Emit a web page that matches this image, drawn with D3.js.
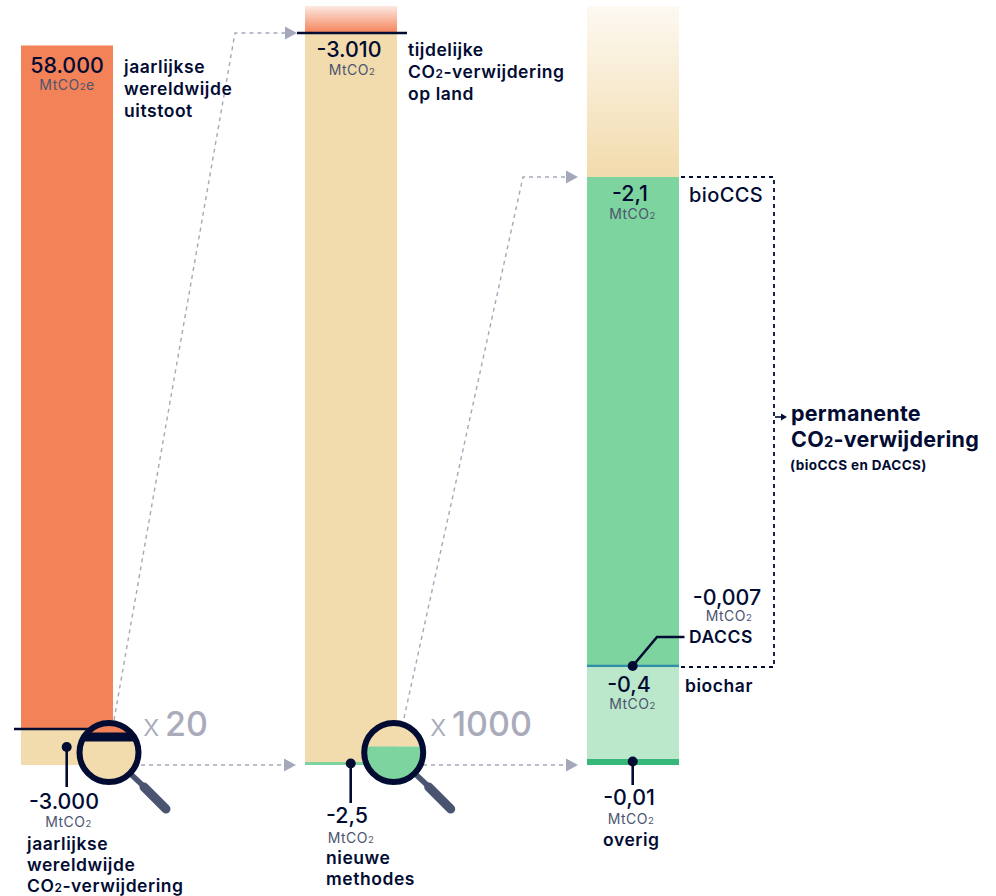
<!DOCTYPE html>
<html>
<head>
<meta charset="utf-8">
<script src="https://cdn.jsdelivr.net/npm/d3@7"></script>
<style>
  html, body { margin: 0; padding: 0; background: #fff; }
  svg { display: block; }
  text { font-family: Inter, "Noto Sans", sans-serif; fill: #020c33; }
  .value { font-size: 21.4px; font-weight: 500; text-anchor: middle; }
  .unit { font-size: 14px; font-weight: 400; text-anchor: middle; fill: #4d5470; letter-spacing: 0.5px; }
  .label { font-size: 17.5px; font-weight: 600; letter-spacing: 0.55px; }
  .label2 { font-size: 20px; font-weight: 500; letter-spacing: 0.4px; }
  .big { font-size: 21.5px; font-weight: 700; letter-spacing: 0.25px; }
  .small { font-size: 13.5px; font-weight: 700; letter-spacing: 0.4px; }
  .times { font-size: 31px; font-weight: 300; fill: #a9abbb; }
  .factor { font-size: 34px; font-weight: 500; fill: #a9abbb; }
</style>
</head>
<body>
<div id="chart"></div>
<script>
// values in MtCO2, every list runs from the bottom of the bar upwards
const bar1Segments = ["verwijdering", "uitstoot"];
const bar1Values = [3000, 58000];
const bar2Segments = ["nieuwe methodes", "op land"];
const bar2Values = [2.5, 3007.5];
const bar3Segments = ["biochar", "bioCCS"];
const bar3Values = [0.4, 2.1];
const overigValue = 0.01;
const daccsValue = 0.007;
const zoomFactors = ["20", "1000"];

const valueLabels = ["58.000", "-3.000", "-3.010", "-2,5", "-2,1", "-0,4", "-0,007", "-0,01"];
const unitLabels = ["MtCO2e", "MtCO2"];

const width = 996;
const height = 896;
const navy = "#020c33";
const grey = "#a5a8bb";
const handle = "#4a5470";
const barWidth = 92;

const color = d3.scaleOrdinal()
    .domain(["uitstoot", "verwijdering", "op land", "nieuwe methodes", "bioCCS", "biochar", "overig", "DACCS"])
    .range(["#f48259", "#f2dbac", "#f2dbac", "#7dd49e", "#7dd49e", "#bbe8cb", "#37b878", "#2f8fa8"]);

const x = d3.scaleOrdinal().domain([1, 2, 3]).range([21, 305, 587]);

const y1 = d3.scaleLinear().domain([0, d3.sum(bar1Values)]).range([765, 45.5]);
const y2 = d3.scaleLinear().domain([0, d3.sum(bar2Values)]).range([765, 33]);
const y3 = d3.scaleLinear().domain([0, d3.sum(bar3Values)]).range([759, 177]);

const svg = d3.select("#chart").append("svg")
    .attr("width", width)
    .attr("height", height)
    .attr("viewBox", `0 0 ${width} ${height}`);

const defs = svg.append("defs");

function fade(id, from, to) {
    const g = defs.append("linearGradient").attr("id", id)
        .attr("x1", 0).attr("x2", 0).attr("y1", 0).attr("y2", 1);
    g.append("stop").attr("offset", "0%").attr("stop-color", from);
    g.append("stop").attr("offset", "100%").attr("stop-color", to);
}
fade("fade2", "#fde9e2", color("uitstoot"));
fade("fade3", "#fdf9f1", color("op land"));

const arrowLayer = svg.append("g");
const barLayer = svg.append("g");
const noteLayer = svg.append("g");

// one stacked bar, with a scale of its own
function stackBar(column, segments, values, y) {
    const ends = d3.cumsum(values);
    barLayer.append("g").selectAll("rect")
        .data(segments)
        .join("rect")
        .attr("x", x(column))
        .attr("width", barWidth)
        .attr("y", (d, i) => y(ends[i]))
        .attr("height", (d, i) => y(ends[i] - values[i]) - y(ends[i]))
        .attr("fill", d => color(d));
}

stackBar(1, bar1Segments, bar1Values, y1);
stackBar(2, bar2Segments, bar2Values, y2);
stackBar(3, bar3Segments, bar3Values, y3);

// the faded tops
barLayer.append("rect").attr("x", x(2)).attr("width", barWidth)
    .attr("y", 6).attr("height", y2(d3.sum(bar2Values)) - 6).attr("fill", "url(#fade2)");
barLayer.append("rect").attr("x", x(3)).attr("width", barWidth)
    .attr("y", 6).attr("height", y3(d3.sum(bar3Values)) - 6).attr("fill", "url(#fade3)");

// these are too thin at true scale, so they get a minimum height
barLayer.append("rect").attr("x", x(2)).attr("width", barWidth)
    .attr("y", 762).attr("height", Math.max(y2(0) - y2(bar2Values[0]), 3))
    .attr("fill", color("nieuwe methodes"));
barLayer.append("rect").attr("x", x(3)).attr("width", barWidth)
    .attr("y", 759).attr("height", Math.max(y3(0) - y3(overigValue), 6))
    .attr("fill", color("overig"));
barLayer.append("rect").attr("x", x(3)).attr("width", barWidth)
    .attr("y", y3(bar3Values[0]) - 1.15).attr("height", Math.max(y3(0) - y3(daccsValue), 2.3))
    .attr("fill", color("DACCS"));

// dotted connectors between the bars
function arrow(points) {
    arrowLayer.append("path")
        .attr("d", d3.line()(points))
        .attr("fill", "none")
        .attr("stroke", grey)
        .attr("stroke-width", 1.4)
        .attr("stroke-dasharray", "4 4");
    const [tx, ty] = points[points.length - 1];
    arrowLayer.append("path")
        .attr("d", `M${tx},${ty - 6.5}L${tx + 12},${ty}L${tx},${ty + 6.5}Z`)
        .attr("fill", grey);
}
arrow([[114, 720], [235, 33], [285, 33]]);
arrow([[404, 718], [523, 177], [566, 177]]);
arrow([[141, 765], [284, 765]]);
arrow([[423, 765], [566, 765]]);

// split line on the first bar, top line on the second
noteLayer.append("line").attr("x1", 14).attr("x2", 95).attr("y1", 729).attr("y2", 729)
    .attr("stroke", navy).attr("stroke-width", 2.6);
noteLayer.append("line").attr("x1", 297).attr("x2", 407).attr("y1", 33).attr("y2", 33)
    .attr("stroke", navy).attr("stroke-width", 2.6);

// dashed bracket round bioCCS and DACCS
noteLayer.append("path")
    .attr("d", d3.line()([[681, 177], [774, 177], [774, 667], [681, 667]]))
    .attr("fill", "none").attr("stroke", navy).attr("stroke-width", 1.8)
    .attr("stroke-dasharray", "4 4");
noteLayer.append("line").attr("x1", 775).attr("x2", 782).attr("y1", 417).attr("y2", 417)
    .attr("stroke", navy).attr("stroke-width", 1.6);
noteLayer.append("path").attr("d", "M781,413.5L787,417L781,420.5Z").attr("fill", navy);

// leader lines with a dot
function leader(points) {
    noteLayer.append("path").attr("d", d3.line()(points))
        .attr("fill", "none").attr("stroke", navy).attr("stroke-width", 2.6);
    noteLayer.append("circle").attr("cx", points[0][0]).attr("cy", points[0][1]).attr("r", 5).attr("fill", navy);
}
leader([[66.7, 747], [66.7, 787]]);
leader([[350.7, 763.5], [350.7, 803]]);
leader([[632.7, 761.5], [632.7, 785]]);
leader([[632.7, 666], [657, 637], [684.5, 637]]);

// the magnifying glasses
function magnifier(id, cx, cy, splitY, topColor, bottomColor, withLine) {
    const r = 29.5;
    const g = noteLayer.append("g");
    g.append("line").attr("x1", cx + 20).attr("y1", cy + 20).attr("x2", cx + 36).attr("y2", cy + 35)
        .attr("stroke", handle).attr("stroke-width", 5.5);
    g.append("line").attr("x1", cx + 35).attr("y1", cy + 34.5).attr("x2", cx + 57).attr("y2", cy + 56.5)
        .attr("stroke", handle).attr("stroke-width", 9).attr("stroke-linecap", "round");
    defs.append("clipPath").attr("id", id).append("circle").attr("cx", cx).attr("cy", cy).attr("r", r);
    const inner = g.append("g").attr("clip-path", `url(#${id})`);
    inner.append("rect").attr("x", cx - r).attr("y", cy - r).attr("width", 2 * r).attr("height", splitY - cy + r).attr("fill", topColor);
    inner.append("rect").attr("x", cx - r).attr("y", splitY).attr("width", 2 * r).attr("height", cy + r - splitY).attr("fill", bottomColor);
    if (withLine) {
        inner.append("rect").attr("x", cx - r).attr("y", splitY - 4.5).attr("width", 2 * r).attr("height", 9).attr("fill", navy);
    }
    g.append("circle").attr("cx", cx).attr("cy", cy).attr("r", r)
        .attr("fill", "none").attr("stroke", navy).attr("stroke-width", 6);
}
magnifier("glass1", 109, 752.5, 737, color("uitstoot"), color("verwijdering"), true);
magnifier("glass2", 393.7, 752.5, 746.5, color("op land"), color("nieuwe methodes"), false);

// text, with the 2 of CO2 set small
function put(cls, tx, ty, str) {
    const t = noteLayer.append("text").attr("class", cls).attr("x", tx).attr("y", ty);
    str.split(/(?<=CO)(2)/).forEach(part => {
        if (part === "2") t.append("tspan").attr("font-size", "68%").text(part);
        else t.append("tspan").text(part);
    });
    return t;
}

put("value", 67, 72.5, valueLabels[0]);
put("unit", 67, 90, unitLabels[0]);
["jaarlijkse", "wereldwijde", "uitstoot"].forEach((s, i) => put("label", 124, 73 + i * 21.8, s));

put("value", 349, 56.5, valueLabels[2]);
put("unit", 352, 75, unitLabels[1]);
["tijdelijke", "CO2-verwijdering", "op land"].forEach((s, i) => put("label", 408, 56 + i * 22, s));

put("value", 64, 809, valueLabels[1]);
put("unit", 68.5, 827, unitLabels[1]);
["jaarlijkse", "wereldwijde", "CO2-verwijdering"].forEach((s, i) => put("label", 27, 850 + i * 20.8, s));

put("value", 347, 823, valueLabels[3]);
put("unit", 351, 843, unitLabels[1]);
["nieuwe", "methodes"].forEach((s, i) => put("label", 326, 864 + i * 21, s));

put("value", 630, 201, valueLabels[4]);
put("unit", 632.5, 219, unitLabels[1]);
put("label2", 689, 202, "bioCCS");

put("value", 727, 604.5, valueLabels[6]);
put("unit", 729, 621, unitLabels[1]);
put("label", 689, 643, "DACCS");

put("value", 629, 692, valueLabels[5]);
put("unit", 632.5, 709, unitLabels[1]);
put("label", 685, 691.5, "biochar");

put("value", 629, 805, valueLabels[7]);
put("unit", 631, 824, unitLabels[1]);
put("label", 603, 846, "overig");

put("big", 791, 421, "permanente");
put("big", 791, 447, "CO2-verwijdering");
put("small", 790, 470, "(bioCCS en DACCS)");

put("times", 143, 736, "x");
put("factor", 165, 736, zoomFactors[0]);
put("times", 430, 736, "x");
put("factor", 452, 736, zoomFactors[1]);
</script>
</body>
</html>
